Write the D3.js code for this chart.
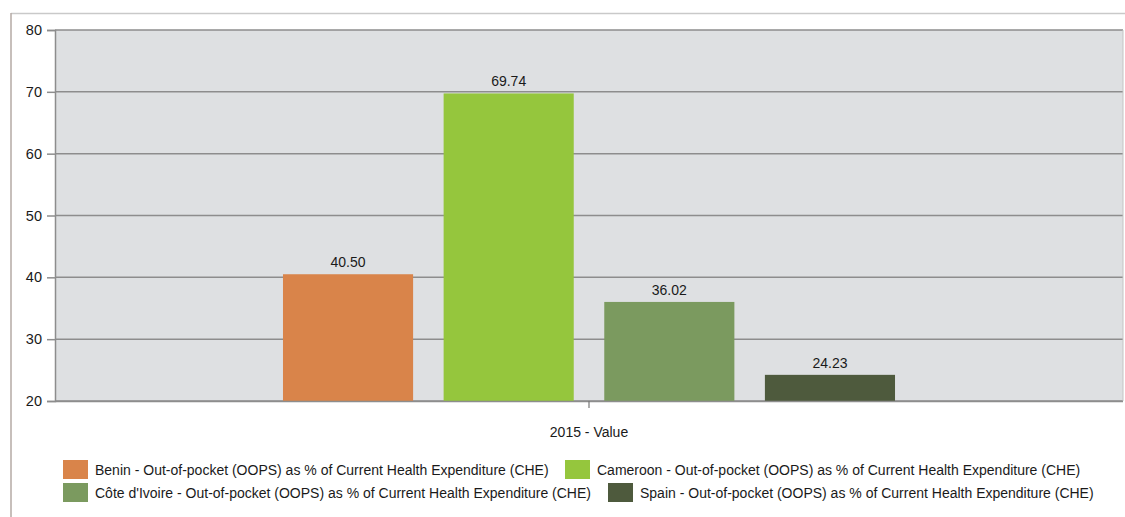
<!DOCTYPE html>
<html><head><meta charset="utf-8">
<script src="https://cdn.jsdelivr.net/npm/d3@7"></script>
<style>body{margin:0;background:#fff;}svg{display:block;font-family:"Liberation Sans",Arial,sans-serif;}</style>
</head><body>
<svg id="c" width="1125" height="517"></svg>
<script>
const categories = ["2015 - Value"];
const seriesNames = [
  "Benin - Out-of-pocket (OOPS) as % of Current Health Expenditure (CHE)",
  "Cameroon - Out-of-pocket (OOPS) as % of Current Health Expenditure (CHE)",
  "Côte d'Ivoire - Out-of-pocket (OOPS) as % of Current Health Expenditure (CHE)",
  "Spain - Out-of-pocket (OOPS) as % of Current Health Expenditure (CHE)"
];
const values = [40.50, 69.74, 36.02, 24.23];
const colors = ["#D9844A", "#95C63D", "#7B9A5F", "#4E5A3D"];
const yTicks = [20, 30, 40, 50, 60, 70, 80];

const svg = d3.select("#c");
const L = 55, R = 1123, T = 30, B = 401;

// outer frame
svg.append("line").attr("x1",11).attr("x2",1125).attr("y1",13.5).attr("y2",13.5).attr("stroke","#c9c9c9").attr("stroke-width",1.5);
svg.append("line").attr("x1",11).attr("x2",11).attr("y1",13).attr("y2",517).attr("stroke","#b5aaa5").attr("stroke-width",1.5);

const y = d3.scaleLinear().domain([20, 80]).range([B, T]);
const x0 = d3.scaleBand().domain(categories).range([L, R]).paddingInner(0).paddingOuter(0.3725);
const x1 = d3.scaleBand().domain(seriesNames).range([0, x0.bandwidth()]).paddingInner(0.19).paddingOuter(0);

svg.append("rect").attr("x",L).attr("y",T).attr("width",R-L).attr("height",B-T).attr("fill","#DEE0E2");

// grid
svg.append("g").selectAll("line").data(yTicks).join("line")
  .attr("x1",L).attr("x2",R).attr("y1",d=>y(d)).attr("y2",d=>y(d))
  .attr("stroke","#8d8d8d").attr("stroke-width",1.5);

// y axis
const yAxis = svg.append("g").attr("transform",`translate(${L},0)`)
  .call(d3.axisLeft(y).tickValues(yTicks).tickSize(8).tickPadding(5));
yAxis.select(".domain").attr("stroke","#8d8d8d").attr("stroke-width",1.5);
yAxis.selectAll(".tick line").attr("stroke","#8d8d8d").attr("stroke-width",1.5);
yAxis.selectAll(".tick text").attr("font-size",14.5).attr("fill","#1a1a1a").attr("font-family","Liberation Sans, Arial, sans-serif");

// right border
svg.append("line").attr("x1",R).attr("x2",R).attr("y1",T).attr("y2",B).attr("stroke","#c4c4c4").attr("stroke-width",1);

// bars
const g = svg.append("g");
const data = seriesNames.map((s,i)=>({s, v: values[i], c: colors[i], cat: categories[0]}));
g.selectAll("rect").data(data).join("rect")
  .attr("x", d=>x0(d.cat)+x1(d.s)).attr("width", x1.bandwidth())
  .attr("y", d=>y(d.v)).attr("height", d=>y(20)-y(d.v)).attr("fill", d=>d.c);
g.selectAll("text").data(data).join("text")
  .attr("x", d=>x0(d.cat)+x1(d.s)+x1.bandwidth()/2).attr("y", d=>y(d.v)-7)
  .attr("text-anchor","middle").attr("font-size",14).attr("fill","#1a1a1a")
  .text(d=>d.v.toFixed(2));

// x axis
const xAxis = svg.append("g").attr("transform",`translate(0,${B})`)
  .call(d3.axisBottom(x0).tickSize(7).tickPadding(0).tickFormat(""));
xAxis.select(".domain").attr("stroke","#8d8d8d").attr("stroke-width",1.5).attr("d",`M${L},0.5H${R}`);
xAxis.selectAll(".tick line").attr("stroke","#777").attr("stroke-width",1.2);
svg.selectAll(".xlab").data(categories).join("text")
  .attr("x", d=>x0(d)+x0.bandwidth()/2).attr("y", 437)
  .attr("text-anchor","middle").attr("font-size",14).attr("fill","#1a1a1a").text(d=>d);

// legend
const legPos = [[63,460],[565,460],[63,483],[608,483]];
const lg = svg.append("g");
data.forEach((d,i)=>{
  const [lx,ly] = legPos[i];
  lg.append("rect").attr("x",lx).attr("y",ly).attr("width",25).attr("height",19).attr("fill",d.c);
  lg.append("text").attr("x",lx+32).attr("y",ly+15).attr("font-size",14).attr("fill","#1a1a1a").text(d.s);
});
</script>
</body></html>
